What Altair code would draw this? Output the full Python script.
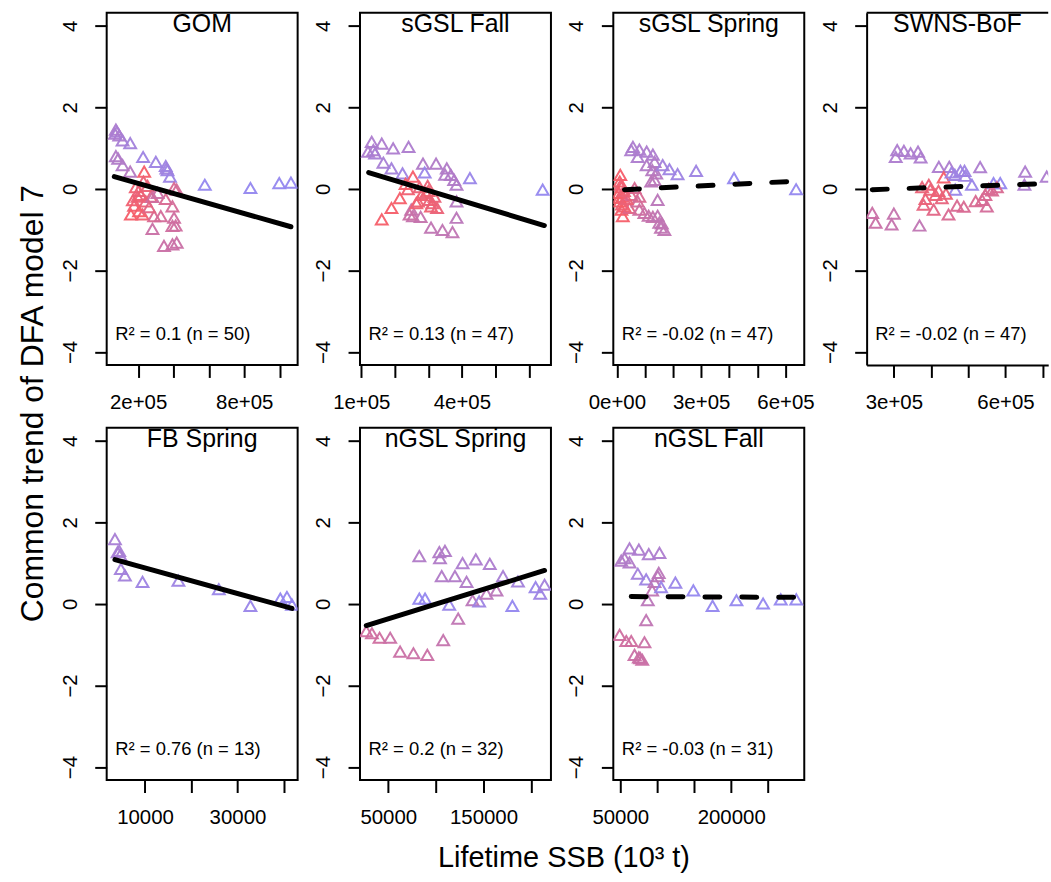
import altair as alt
import pandas as pd

FONT = "Liberation Sans"
RED = "#F65E6A"
BLUE = "#9487F0"

# ---------------------------------------------------------------- panels
PANELS = ["GOM", "sGSL Fall", "sGSL Spring", "SWNS-BoF",
          "FB Spring", "nGSL Spring", "nGSL Fall"]
R2 = ["0.1", "0.13", "-0.02", "-0.02", "0.76", "0.2", "-0.03"]
DASHED = [False, False, True, True, False, False, True]

# ---------------------------------------------------------------- GOM
gom_x = [74000, 69000, 93000, 80000, 112000, 155000, 74000, 87000, 112000, 155000,
         228000, 300000, 356000, 366000, 380000, 577000, 835000, 998000, 1064000, 360000,
         234000, 187000, 253000, 215000, 272000, 177000, 243000, 159000, 225000, 290000,
         328000, 356000, 403000, 418000, 394000, 403000, 394000, 412000, 281000, 346000,
         394000, 418000, 281000, 197000, 205000, 170000, 262000, 230000, 310000, 203000]
gom_y = [1.45, 1.35, 1.31, 1.40, 1.19, 1.12, 0.80, 0.74, 0.58, 0.42,
         0.78, 0.66, 0.56, 0.46, 0.30, 0.10, 0.02, 0.14, 0.15, 0.50,
         0.42, 0.04, 0.07, -0.15, -0.19, -0.41, -0.31, -0.63, -0.63, -0.67,
         -0.67, -0.25, 0.02, -0.02, -0.43, -0.71, -0.91, -0.90, -0.98, -1.40,
         -1.36, -1.32, -0.20, -0.19, -0.55, -0.28, -0.45, 0.18, -0.10, -0.05]
gom_c = [0.75, 0.75, 0.75, 0.78, 0.8, 0.85, 0.7, 0.7, 0.7, 0.65,
         0.9, 0.9, 0.9, 0.92, 0.92, 1.0, 1.0, 1.0, 1.0, 0.88,
         0.0, 0.05, 0.1, 0.05, 0.15, 0.05, 0.1, 0.0, 0.05, 0.3,
         0.35, 0.3, 0.3, 0.35, 0.35, 0.4, 0.4, 0.4, 0.45, 0.45,
         0.45, 0.45, 0.4, 0.1, 0.0, 0.05, 0.2, 0.1, 0.45, 0.1]
gom_fit_x = [65000, 1064000]
gom_fit_y = [0.30, -0.93]

# ---------------------------------------------------------------- sGSL Fall
sglf_x = [131000, 120000, 136000, 141000, 161000, 195000, 241000, 166000, 190000, 223000,
          254000, 284000, 323000, 289000, 355000, 367000, 377000, 384000, 424000, 641000,
          239000, 274000, 298000, 215000, 190000, 161000, 269000, 303000, 318000, 308000,
          326000, 249000, 254000, 277000, 244000, 384000, 384000, 308000, 342000, 372000,
          293000, 264000, 280000, 312000, 232000, 350000, 300000]
sglf_y = [1.15, 0.91, 0.95, 0.87, 1.11, 0.99, 1.03, 0.64, 0.50, 0.38,
          0.30, 0.62, 0.62, 0.40, 0.50, 0.34, 0.22, 0.10, 0.26, -0.02,
          -0.01, 0.04, 0.07, -0.23, -0.47, -0.75, -0.31, -0.27, -0.19, -0.43,
          -0.47, -0.51, -0.67, -0.69, -0.63, -0.31, -0.71, -0.95, -1.01, -1.06,
          -0.10, -0.35, -0.15, -0.35, 0.12, 0.35, -0.05]
sglf_c = [0.75, 0.75, 0.75, 0.8, 0.75, 0.75, 0.75, 0.8, 0.85, 0.9,
          0.0, 0.7, 0.7, 0.95, 0.7, 0.7, 0.7, 0.7, 0.95, 1.0,
          0.05, 0.1, 0.1, 0.0, 0.0, 0.0, 0.05, 0.1, 0.1, 0.05,
          0.1, 0.5, 0.5, 0.5, 0.45, 0.65, 0.6, 0.55, 0.55, 0.55,
          0.1, 0.05, 0.05, 0.1, 0.0, 0.7, 0.05]
sglf_fit_x = [122000, 646000]
sglf_fit_y = [0.40, -0.90]

# ---------------------------------------------------------------- sGSL Spring
sgls_x = [12000, 10000, 16000, 7000, 21000, 10000, 27000, 16000, 21000, 45000,
          63000, 51000, 80000, 74000, 80000, 98000, 113000, 128000, 145000, 151000,
          157000, 169000, 145000, 8000, 14000, 18000, 25000, 35000, 57000, 51000,
          80000, 74000, 106000, 128000, 106000, 134000, 126000, 140000, 134000, 122000,
          163000, 187000, 216000, 282000, 417000, 638000, 160000]
sgls_y = [0.34, 0.18, 0.04, -0.10, -0.19, -0.31, -0.43, -0.51, -0.67, -0.47,
          0.02, -0.15, -0.19, -0.31, -0.51, -0.59, -0.66, -0.69, -0.66, -0.83,
          -0.95, -1.01, -0.27, -0.22, 0.10, -0.38, -0.05, -0.25, 1.03, 0.95,
          0.96, 0.78, 0.91, 0.84, 0.58, 0.66, 0.46, 0.38, 0.22, 0.18,
          0.58, 0.48, 0.36, 0.44, 0.26, -0.01, -0.85]
sgls_c = [0.0, 0.0, 0.05, 0.0, 0.05, 0.0, 0.05, 0.0, 0.0, 0.2,
          0.3, 0.25, 0.3, 0.35, 0.4, 0.45, 0.5, 0.5, 0.55, 0.55,
          0.55, 0.55, 0.6, 0.0, 0.05, 0.05, 0.1, 0.1, 0.75, 0.75,
          0.75, 0.75, 0.75, 0.75, 0.7, 0.7, 0.65, 0.65, 0.6, 0.6,
          0.85, 0.9, 0.9, 0.9, 1.0, 1.0, 0.55]
sgls_fit_x = [27000, 645000]
sgls_fit_y = [-0.02, 0.19]

# ---------------------------------------------------------------- SWNS-BoF
swns_x = [242000, 251000, 300000, 294000, 369000, 309000, 305000, 327000, 345000, 365000,
          372000, 421000, 449000, 434000, 464000, 479000, 490000, 492000, 532000, 510000,
          465000, 568000, 586000, 653000, 651000, 711000, 376000, 394000, 412000, 429000,
          380000, 407000, 398000, 447000, 470000, 488000, 537000, 550000, 546000, 564000,
          577000, 420000, 440000, 385000, 520000, 555000, 455000]
swns_y = [-0.59, -0.83, -0.61, -0.87, -0.90, 0.95, 0.78, 0.93, 0.87, 0.91,
          0.77, 0.54, 0.54, 0.28, 0.34, 0.44, 0.44, 0.32, 0.53, 0.10,
          -0.02, 0.14, 0.14, 0.42, 0.10, 0.30, 0.04, 0.10, -0.15, -0.23,
          -0.39, -0.51, -0.02, -0.63, -0.41, -0.44, -0.27, -0.43, -0.15, -0.04,
          0.04, -0.05, -0.12, -0.25, -0.30, 0.0, 0.40]
swns_c = [0.45, 0.45, 0.5, 0.5, 0.55, 0.75, 0.75, 0.75, 0.75, 0.75,
          0.75, 0.75, 0.75, 0.0, 0.9, 0.9, 0.9, 0.9, 0.75, 0.95,
          0.95, 1.0, 1.0, 0.75, 0.75, 0.75, 0.1, 0.1, 0.1, 0.15,
          0.15, 0.2, 0.1, 0.3, 0.3, 0.3, 0.3, 0.35, 0.3, 0.3,
          0.3, 0.1, 0.1, 0.1, 0.3, 0.3, 0.9]
swns_fit_x = [242000, 720000]
swns_fit_y = [-0.02, 0.13]

# ---------------------------------------------------------------- FB Spring
fb_x = [3490, 4420, 4070, 4630, 4780, 5650, 9460, 17220, 25970, 32800, 39270, 40710, 41790]
fb_y = [1.59, 1.30, 1.27, 1.20, 0.86, 0.70, 0.54, 0.57, 0.36, -0.05, 0.13, 0.17, -0.02]
fb_c = [0.8, 0.8, 0.8, 0.8, 0.85, 0.85, 0.9, 0.9, 0.95, 0.95, 1.0, 1.0, 1.0]
fb_fit_x = [3490, 41790]
fb_fit_y = [1.085, -0.112]

# ---------------------------------------------------------------- nGSL Spring
ngs_x = [26900, 32800, 40800, 52000, 62400, 76400, 91000, 107700, 123400, 82600,
         103600, 109500, 104300, 128000, 141900, 156600, 106100, 120000, 132200, 82600,
         88600, 114000, 138500, 145400, 153100, 163600, 170500, 180300, 186200, 204700,
         209600, 214100]
ngs_y = [-0.67, -0.72, -0.83, -0.83, -1.17, -1.21, -1.25, -0.89, -0.36, 1.17,
         1.27, 1.30, 1.12, 1.00, 1.09, 0.98, 0.68, 0.68, 0.54, 0.13,
         0.13, -0.02, 0.09, 0.06, 0.25, 0.33, 0.68, -0.05, 0.55, 0.41,
         0.25, 0.47]
ngs_c = [0.4, 0.4, 0.4, 0.45, 0.45, 0.45, 0.45, 0.5, 0.55, 0.7,
         0.7, 0.7, 0.7, 0.75, 0.75, 0.75, 0.7, 0.7, 0.7, 1.0,
         1.0, 0.95, 0.6, 0.9, 0.6, 0.6, 0.8, 1.0, 0.85, 0.95,
         0.9, 0.85]
ngs_fit_x = [26900, 214100]
ngs_fit_y = [-0.53, 0.82]

# ---------------------------------------------------------------- nGSL Fall
ngf_x = [62500, 75100, 51300, 55800, 62500, 88500, 103000, 73700, 85000, 102000,
         100700, 96200, 93100, 105200, 124500, 148800, 87200, 174800, 207100, 243100,
         267000, 288000, 85000, 49100, 58100, 64800, 82700, 69300, 75100, 79700,
         77000]
ngf_y = [1.36, 1.33, 1.06, 1.12, 1.02, 1.22, 1.25, 0.74, 0.60, 0.76,
         0.68, 0.54, 0.33, 0.41, 0.52, 0.33, 0.09, -0.05, 0.09, 0.01,
         0.11, 0.11, -0.40, -0.76, -0.91, -0.91, -0.94, -1.25, -1.31, -1.37,
         -1.33]
ngf_c = [0.75, 0.75, 0.7, 0.7, 0.7, 0.75, 0.75, 0.85, 0.9, 0.6,
         0.6, 0.6, 0.55, 0.95, 0.95, 1.0, 0.6, 1.0, 1.0, 1.0,
         1.0, 1.0, 0.55, 0.4, 0.4, 0.4, 0.45, 0.45, 0.45, 0.45,
         0.45]
ngf_fit_x = [64800, 290700]
ngf_fit_y = [0.18, 0.16]

# ---------------------------------------------------------------- x axes
X_DOMAINS = [[22000, 1102000], [96100, 665700], [-12800, 667000], [226800, 715000],
             [1703, 43017], [20293, 220816], [40566, 298787]]
X_TICKS = [[200000, 400000, 600000, 800000, 1000000],
           [100000, 200000, 300000, 400000, 500000, 600000],
           [0, 100000, 200000, 300000, 400000, 500000, 600000],
           [300000, 400000, 500000, 600000, 700000],
           [10000, 20000, 30000, 40000],
           [50000, 100000, 150000, 200000],
           [50000, 100000, 150000, 200000, 250000]]
X_LABELS = [["2e+05", "", "", "8e+05", ""],
            ["1e+05", "", "", "4e+05", "", ""],
            ["0e+00", "", "", "3e+05", "", "", "6e+05"],
            ["3e+05", "", "", "6e+05", ""],
            ["10000", "", "30000", ""],
            ["50000", "", "150000", ""],
            ["50000", "", "", "200000", ""]]
Y_TICKS = [-4, -2, 0, 2, 4]

W = 191.7
W_LAST = 182.3
H = 353.7

DATA = [(gom_x, gom_y, gom_c, gom_fit_x, gom_fit_y),
        (sglf_x, sglf_y, sglf_c, sglf_fit_x, sglf_fit_y),
        (sgls_x, sgls_y, sgls_c, sgls_fit_x, sgls_fit_y),
        (swns_x, swns_y, swns_c, swns_fit_x, swns_fit_y),
        (fb_x, fb_y, fb_c, fb_fit_x, fb_fit_y),
        (ngs_x, ngs_y, ngs_c, ngs_fit_x, ngs_fit_y),
        (ngf_x, ngf_y, ngf_c, ngf_fit_x, ngf_fit_y)]


def panel(i):
    xs, ys, cs, fx, fy = DATA[i]
    width = W_LAST if i == 3 else W
    open_right = i == 3

    expr = "".join(f"datum.value == {v} ? '{l}' : "
                   for v, l in zip(X_TICKS[i], X_LABELS[i]) if l) + "''"
    xaxis = dict(values=X_TICKS[i], labelExpr=expr, grid=False, domain=open_right,
                 tickSize=12.5, labelPadding=15, labelFontSize=20.5,
                 labelFlush=False, labelOverlap=False)
    if i == 5:
        xaxis.update(title="Lifetime SSB (10³ t)", titleX=204.3, titleY=87,
                     titleAlign="center", titleBaseline="alphabetic",
                     titleFontSize=29, titleAngle=0)
    else:
        xaxis["title"] = None

    yaxis = dict(values=Y_TICKS, grid=False, domain=open_right, tickSize=12,
                 labelAngle=270, labelAlign="center", labelBaseline="bottom",
                 labelPadding=14.5, labelFontSize=20.5, labelFlush=False,
                 labelOverlap=False)
    if i == 0:
        yaxis.update(title="Common trend of DFA model 7", titleX=-64.7, titleY=392,
                     titleAngle=270, titleAlign="center",
                     titleBaseline="alphabetic", titleFontSize=32)
    else:
        yaxis["title"] = None

    xenc = alt.X("x:Q", scale=alt.Scale(domain=X_DOMAINS[i], nice=False, zero=False),
                 axis=alt.Axis(**xaxis))
    yenc = alt.Y("y:Q", scale=alt.Scale(domain=[-4.32, 4.32], nice=False, zero=False),
                 axis=alt.Axis(**yaxis))

    pts = pd.DataFrame({"x": xs, "y": ys, "c": cs})
    points = alt.Chart(pts).mark_point(
        shape="triangle-up", filled=False, size=140, strokeWidth=2,
        opacity=0.95, clip=True
    ).encode(
        x=xenc, y=yenc,
        color=alt.Color("c:Q", legend=None,
                        scale=alt.Scale(domain=[0, 1], range=[RED, BLUE],
                                        interpolate="rgb")),
    )

    line_style = dict(color="black", strokeWidth=5, strokeCap="round", clip=True)
    if DASHED[i]:
        line_style["strokeDash"] = [15, 22]
    fit = alt.Chart(pd.DataFrame({"x": fx, "y": fy})).mark_line(**line_style).encode(
        x=xenc, y=yenc)

    title = alt.Chart(pd.DataFrame({"t": [PANELS[i]]})).mark_text(
        font=FONT, fontSize=25, align="center", baseline="alphabetic", color="black"
    ).encode(text="t:N", x=alt.value(width / 2), y=alt.value(19))

    r2 = alt.Chart(pd.DataFrame({"t": [f"R² = {R2[i]} (n = {len(xs)})"]})).mark_text(
        font=FONT, fontSize=18.5, align="left", baseline="alphabetic", color="black"
    ).encode(text="t:N", x=alt.value(8.6), y=alt.value(H - 25))

    layers = [points, fit, title, r2]
    if open_right:
        top = alt.Chart(pd.DataFrame({"a": [0]})).mark_rule(
            color="black", strokeWidth=2
        ).encode(x=alt.value(0), x2=alt.value(width), y=alt.value(0))
        layers.append(top)

    chart = alt.layer(*layers).properties(width=width, height=H)
    if open_right:
        chart = chart.properties(view=alt.ViewBackground(stroke="transparent"))
    return chart


chart = alt.concat(
    *[panel(i) for i in range(len(PANELS))],
    columns=4,
    spacing={"row": 62.7, "column": 62.3},
    bounds="flush",
).properties(
    padding={"left": 15.1, "top": 9, "right": 0, "bottom": 0},
    background="white",
).configure_view(
    stroke="black", strokeWidth=2
).configure_axis(
    labelFont=FONT, titleFont=FONT, labelColor="black", titleColor="black",
    tickColor="black", tickWidth=2, domainColor="black", domainWidth=2,
    titleFontWeight="normal",
)

chart.save("out.html", embed_options={"renderer": "svg", "actions": False})
